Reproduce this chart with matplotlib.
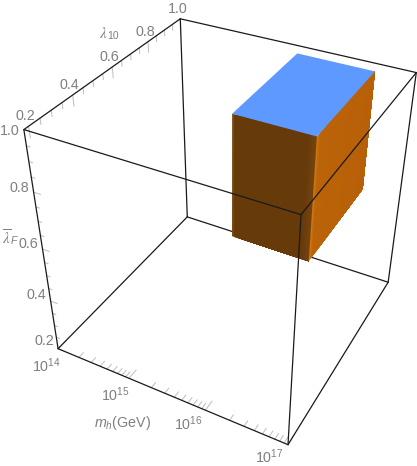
import numpy as np
import matplotlib
matplotlib.use("Agg")
import matplotlib.pyplot as plt
from matplotlib.colors import to_rgb
from matplotlib.patches import Polygon

# ------------------------
# data
# ------------------------
mh_ticks = [14, 15, 16, 17]
mh_labels = ["$10^{14}$", "$10^{15}$", "$10^{16}$", "$10^{17}$"]
lam_ticks = [0.2, 0.4, 0.6, 0.8, 1.0]
lam_labels = ["0.2", "0.4", "0.6", "0.8", "1.0"]
lam_minor = [0.25, 0.3, 0.35, 0.45, 0.5, 0.55, 0.65, 0.7, 0.75, 0.85, 0.9, 0.95]

x_lim = [14, 17]
y_lim = [0.18, 1.0]
z_lim = [0.2, 1.0]

# allowed region (log10 mh, lambda10, lambda_F)
box_x = [15.72, 16.64]
box_y = [0.49, 0.91]
box_z = [0.61, 1.02]

# ------------------------
# camera: fitted to the corners of the frame on screen
# ------------------------
cam_world = [(x, y, z) for x in x_lim for y in y_lim for z in z_lim]
cam_screen = [(58, 348.5), (24, 130), (187.5, 217), (180, 18.5),
              (288, 445), (301, 214), (388, 282), (416.5, 73)]


def fit_camera(world, screen):
    rows = []
    for (x, y, z), (u, v) in zip(world, screen):
        rows.append([x, y, z, 1, 0, 0, 0, 0, -u * x, -u * y, -u * z, -u])
        rows.append([0, 0, 0, 0, x, y, z, 1, -v * x, -v * y, -v * z, -v])
    return np.linalg.svd(np.array(rows, float))[2][-1].reshape(3, 4)


P = fit_camera(cam_world, cam_screen)


def proj(x, y, z):
    q = P @ np.array([x, y, z, 1.0])
    return q[0] / q[2], q[1] / q[2]


plt.rcParams["font.family"] = "Liberation Sans"
plt.rcParams["mathtext.fontset"] = "custom"
plt.rcParams["mathtext.rm"] = "Liberation Sans"
plt.rcParams["mathtext.it"] = "Liberation Sans:italic"

fig = plt.figure(figsize=(4.17, 4.66), dpi=100)
ax = fig.add_axes([0, 0, 1, 1])
ax.set_xlim(0, 417)
ax.set_ylim(466, 0)
ax.axis("off")


def seg(a, b, **kw):
    pa, pb = proj(*a), proj(*b)
    ax.plot([pa[0], pb[0]], [pa[1], pb[1]], solid_capstyle="round", **kw)


def face(corner, du, dv, stops, n=40, zorder=3):
    # one box face, repainted from each strip to the far end so no seams show
    corner, du, dv = map(np.array, (corner, du, dv))
    ts, cols = zip(*stops)
    cols = np.array([to_rgb(c) for c in cols])
    for i in range(n):
        t0 = i / n
        col = tuple(np.interp(t0 + 0.5 / n, ts, cols[:, k]) for k in range(3))
        quad = [corner + t0 * du, corner + du, corner + du + dv, corner + t0 * du + dv]
        ax.add_patch(Polygon([proj(*q) for q in quad], closed=True, fc=col, ec="none", zorder=zorder))


x0, x1 = box_x
y0, y1 = box_y
z0, z1 = box_z

# back frame
frame_kw = dict(color="#1a1a1a", lw=0.9)
x_a, x_b = x_lim
y_a, y_b = y_lim
z_a, z_b = z_lim
for a, b in [((x_a, y_b, z_a), (x_b, y_b, z_a)), ((x_a, y_b, z_b), (x_b, y_b, z_b)),
             ((x_a, y_b, z_a), (x_a, y_b, z_b)), ((x_a, y_a, z_a), (x_a, y_b, z_a))]:
    seg(a, b, zorder=2, **frame_kw)

face((x0, y0, z0), (x1 - x0, 0, 0), (0, 0, z1 - z0),
     [(0, "#8a5515"), (0.03, "#673a0a"), (0.9, "#673a0a"), (1, "#754410")])
face((x1, y0, z0), (0, y1 - y0, 0), (0, 0, z1 - z0),
     [(0, "#d67c10"), (0.05, "#bb6308"), (1, "#b86008")])
face((x0, y0, z1), (x1 - x0, 0, 0), (0, y1 - y0, 0), [(0, "#5e99ff"), (1, "#5e99ff")], n=1)

# front frame, over the box
for a, b in [((x_a, y_a, z_b), (x_b, y_a, z_b)), ((x_b, y_a, z_a), (x_b, y_a, z_b)),
             ((x_b, y_a, z_b), (x_b, y_b, z_b)), ((x_b, y_b, z_a), (x_b, y_b, z_b)),
             ((x_b, y_a, z_a), (x_b, y_b, z_a)), ((x_a, y_a, z_a), (x_b, y_a, z_a)),
             ((x_a, y_a, z_a), (x_a, y_a, z_b)), ((x_a, y_a, z_b), (x_a, y_b, z_b))]:
    seg(a, b, zorder=5, **frame_kw)

# ticks
tick_kw = dict(color="#bdbdbd", lw=0.7, zorder=1)
for dec in mh_ticks:
    for m in range(1, 10):
        v = dec + np.log10(m)
        if v > x_b:
            continue
        length = 0.05 if m == 1 else 0.03
        seg((v, y_a, z_a), (v, y_a + length * (y_b - y_a), z_a), **tick_kw)
for v in lam_ticks + lam_minor:
    length = 0.045 if v in lam_ticks else 0.025
    seg((x_a, v, z_b), (x_a, v, z_b - length * (z_b - z_a)), **tick_kw)
    length = 0.03 if v in lam_ticks else 0.016
    seg((x_a, y_a, v), (x_a + length * (x_b - x_a), y_a, v), **tick_kw)

# tick labels
label_kw = dict(color="#7f7f7f", fontsize=10.3, ha="center", va="center", zorder=6)
z_label_dy = [-8, -6, -5, -4, 1]
for v, s, dy in zip(lam_ticks, lam_labels, z_label_dy):
    u, w = proj(x_a, v, z_b)
    ax.text(u - 3, w - 10, s, **label_kw)
    u, w = proj(x_a, y_a, v)
    ax.text(u - 14, w + dy, s, **label_kw)
mh_label_off = [(-12, 17), (-14, 16), (-17, 14), (-19, 12)]
for v, s, (du, dv) in zip(mh_ticks, mh_labels, mh_label_off):
    u, w = proj(v, y_a, z_a)
    ax.text(u + du, w + dv, s, **label_kw)

# axis names, lambda comes from a serif italic in the reference
lam_kw = dict(color="#7f7f7f", ha="center", va="center", zorder=6, math_fontfamily="stix")
ax.text(103, 33, r"$\lambda$", fontsize=11, **lam_kw)
ax.text(113, 36, "10", color="#7f7f7f", fontsize=7.5, ha="center", va="center")
ax.text(7, 238, r"$\overline{\lambda}$", fontsize=11, **lam_kw)
ax.text(14, 241, "F", color="#7f7f7f", fontsize=7.5, style="italic", ha="center", va="center")
ax.text(123, 423, r"$m_h$(GeV)", **label_kw)

plt.savefig("out.png", dpi=100)
